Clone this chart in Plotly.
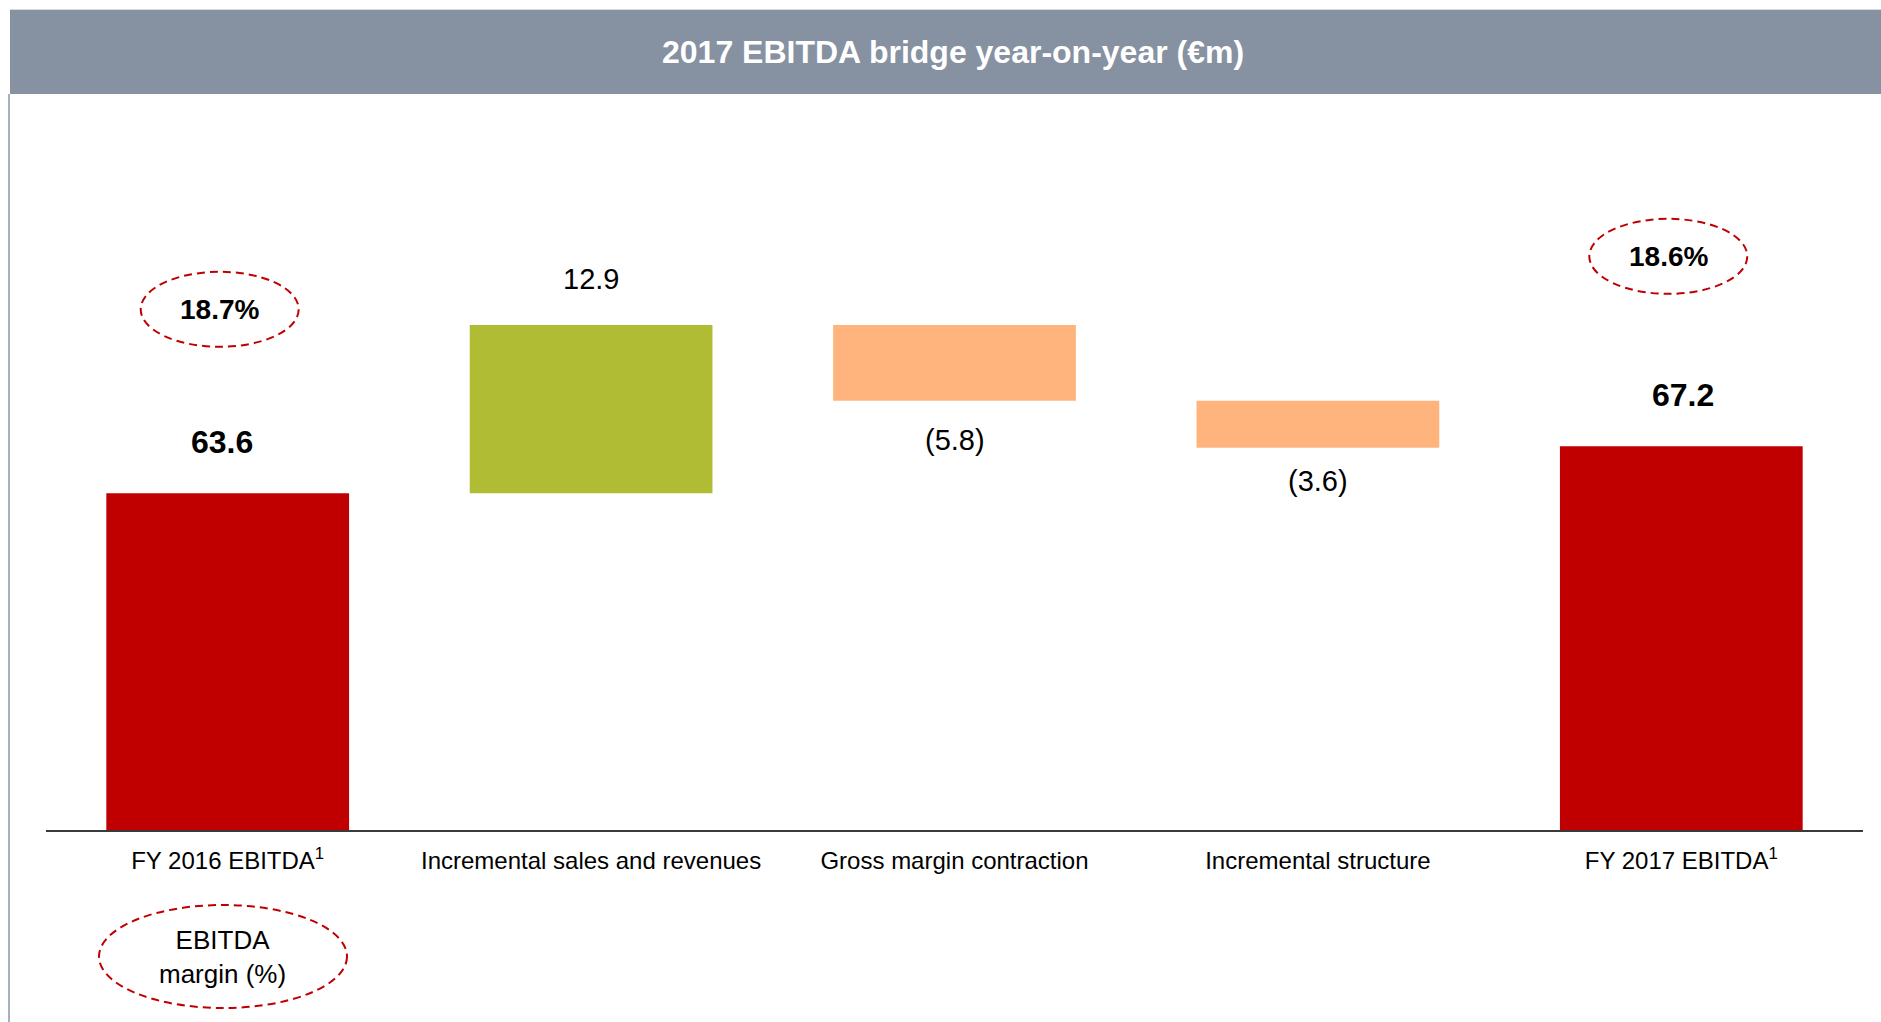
import plotly.graph_objects as go

# ---------------- data ----------------
categories = [
    "FY 2016 EBITDA<sup>1</sup>",
    "Incremental sales and revenues",
    "Gross margin contraction",
    "Incremental structure",
    "FY 2017 EBITDA<sup>1</sup>",
]
start_value = 63.6
changes = [12.9, -5.8, -3.6]
end_value = 67.2
margin_pct = [18.7, 18.6]          # EBITDA margin for FY2016 / FY2017
title_text = "2017 EBITDA bridge year-on-year (€m)"
margin_note = "EBITDA<br>margin (%)"

# ---------------- style ----------------
RED = "#C00000"
GREEN = "#B0BC33"
PEACH = "#FFB47D"
BAND = "#8691A1"
FONT = "Liberation Sans, Arial, sans-serif"

W, H = 1881, 1022
L, R, T, B = 46, 18, 100, 192
plot_w = W - L - R
plot_h = H - T - B
Y0 = 37.8
PX_PER_UNIT = 13.05
y_top = Y0 + plot_h / PX_PER_UNIT

change_label_dy = [46, -39, -33]     # pixel offsets of change labels
total_label_dx = [-6, 2]             # pixel offsets of total labels


def px_x(p):
    return (p - L) / plot_w


def px_y(p):
    return (H - B - p) / plot_h


# ---------------- bars ----------------
bases, heights, colors = [0], [start_value], [RED]
running = start_value
for c in changes:
    bases.append(running)
    heights.append(c)
    colors.append(GREEN if c > 0 else PEACH)
    running += c
bases.append(0)
heights.append(end_value)
colors.append(RED)

xs = list(range(len(categories)))

fig = go.Figure()
fig.add_trace(go.Bar(
    x=xs, y=heights, base=bases,
    marker=dict(color=colors, line=dict(width=0)),
    width=0.668, hoverinfo="skip", showlegend=False,
))

annotations = []
shapes = []

# total labels
for (i, v), dx in zip([(0, start_value), (len(categories) - 1, end_value)], total_label_dx):
    annotations.append(dict(
        x=i, y=v, xref="x", yref="y", text=f"<b>{v:.1f}</b>",
        showarrow=False, yanchor="middle", yshift=51, xshift=dx,
        font=dict(family=FONT, size=32, color="#000000"),
    ))

# change labels
for k, c in enumerate(changes):
    i = k + 1
    end = bases[i] + c
    txt = f"{c:.1f}" if c > 0 else f"({abs(c):.1f})"
    annotations.append(dict(
        x=i, y=end, xref="x", yref="y", text=txt, showarrow=False,
        yanchor="middle", yshift=change_label_dy[k],
        font=dict(family=FONT, size=29, color="#000000"),
    ))

# margin ellipses
for i, v, m, off, xo in [(0, start_value, margin_pct[0], 184, -8),
                         (len(categories) - 1, end_value, margin_pct[1], 190, -13)]:
    annotations.append(dict(
        x=i, y=v, xref="x", yref="y", text=f"<b>{m:.1f}%</b>", showarrow=False,
        yanchor="middle", yshift=off, xshift=xo,
        font=dict(family=FONT, size=28, color="#000000"),
    ))
    shapes.append(dict(
        type="circle", xref="x", yref="y", xsizemode="pixel", ysizemode="pixel",
        xanchor=i, yanchor=v, x0=xo - 79, x1=xo + 79, y0=off - 37.5, y1=off + 37.5,
        line=dict(color=RED, width=2, dash="8px,5px"),
    ))

# header band
shapes.append(dict(type="rect", xref="paper", yref="paper",
                   x0=px_x(10), x1=px_x(W + 5), y0=px_y(94), y1=px_y(10),
                   fillcolor=BAND, line=dict(width=0), layer="below"))
shapes.append(dict(type="line", xref="paper", yref="paper",
                   x0=px_x(10), x1=px_x(W + 5), y0=px_y(9.5), y1=px_y(9.5),
                   line=dict(color="#D4D8DE", width=1)))
# left rule
shapes.append(dict(type="line", xref="paper", yref="paper",
                   x0=px_x(9), x1=px_x(9), y0=px_y(94), y1=px_y(H + 5),
                   line=dict(color="#A9B0BD", width=2)))
annotations.append(dict(
    xref="paper", yref="paper", x=px_x(953), y=px_y(52), text=f"<b>{title_text}</b>",
    showarrow=False, xanchor="center", yanchor="middle",
    font=dict(family=FONT, size=32, color="#FFFFFF"),
))

# legend-style ellipse below axis
shapes.append(dict(type="circle", xref="paper", yref="paper",
                   x0=px_x(99), x1=px_x(347), y0=px_y(1008), y1=px_y(905),
                   line=dict(color=RED, width=2, dash="8px,5px")))
annotations.append(dict(
    xref="paper", yref="paper", x=px_x(222), y=px_y(957), text=margin_note,
    showarrow=False, xanchor="center", yanchor="middle",
    font=dict(family=FONT, size=26, color="#000000"),
))

fig.update_layout(
    width=W, height=H,
    margin=dict(l=L, r=R, t=T, b=B, pad=0),
    paper_bgcolor="#FFFFFF", plot_bgcolor="#FFFFFF",
    font=dict(family=FONT, color="#000000"),
    bargap=0.33,
    shapes=shapes, annotations=annotations,
    xaxis=dict(
        tickmode="array", tickvals=xs, ticktext=categories,
        range=[-0.5, len(categories) - 0.5],
        showline=True, linecolor="#3A3A3A", linewidth=2,
        showgrid=False, zeroline=False, ticks="",
        ticklabelstandoff=8,
        tickfont=dict(family=FONT, size=24, color="#000000"),
        fixedrange=True,
    ),
    yaxis=dict(range=[Y0, y_top], visible=False, showgrid=False, zeroline=False,
               fixedrange=True),
)

fig.write_html("out.html", config={"displayModeBar": False})
